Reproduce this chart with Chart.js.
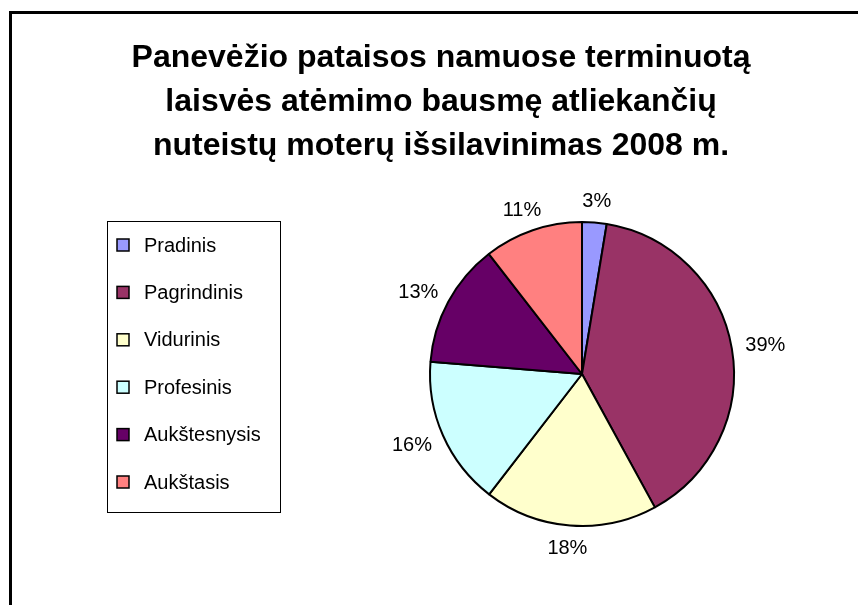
<!DOCTYPE html>
<html>
<head>
<meta charset="utf-8">
<script src="https://cdn.jsdelivr.net/npm/chart.js@4/dist/chart.umd.min.js"></script>
<style>
  html, body { margin: 0; padding: 0; background: #fff; overflow: hidden; }
  #frame { position: absolute; left: 9px; top: 11px; width: 900px; height: 700px;
           border-left: 3px solid #000; border-top: 3px solid #000; }
  #wrap { position: absolute; left: 0; top: 0; width: 858px; height: 605px; }
</style>
</head>
<body>
<div id="frame"></div>
<div id="wrap"><canvas id="grafikas" width="858" height="605"></canvas></div>
<script>
// Duomenys: išsilavinimo grupės ir jų dalys (%)
const kategorijos = ['Pradinis', 'Pagrindinis', 'Vidurinis', 'Profesinis', 'Aukštesnysis', 'Aukštasis'];
const reiksmes = [2.6, 39.4, 18.4, 15.8, 13.2, 10.5];
const spalvos = ['#9999FF', '#993366', '#FFFFCC', '#CCFFFF', '#660066', '#FF8080'];
const pavadinimas = [
  'Panevėžio pataisos namuose terminuotą',
  'laisvės atėmimo bausmę atliekančių',
  'nuteistų moterų išsilavinimas 2008 m.'
];

const SRIFTAS = "'Liberation Sans', Arial, sans-serif";

// Legenda kairėje: atskira layout dėžė, kuri nustumia pyragą į dešinę
const legendaDeze = {
  id: 'legendaDeze',
  beforeInit(chart) {
    const box = {
      position: 'left', weight: 0, fullSize: false, options: {},
      left: 0, top: 0, right: 0, bottom: 0, width: 0, height: 0,
      isHorizontal() { return false; },
      update(maxW, maxH) { this.width = 282; this.height = maxH; },
      draw() {
        const ctx = chart.ctx;
        const fx = this.left + 83, fy = this.top + 53, fw = 173, fh = 291;
        ctx.save();
        ctx.strokeStyle = '#000';
        ctx.lineWidth = 1;
        ctx.strokeRect(fx + 0.5, fy + 0.5, fw, fh);
        ctx.font = '20px ' + SRIFTAS;
        ctx.textBaseline = 'middle';
        ctx.fillStyle = '#000';
        chart.data.labels.forEach((lab, i) => {
          const cy = fy + 24 + i * 47.4;
          ctx.fillStyle = chart.data.datasets[0].backgroundColor[i];
          ctx.fillRect(fx + 10, cy - 6, 12, 12);
          ctx.lineWidth = 1.5;
          ctx.strokeRect(fx + 10, cy - 6, 12, 12);
          ctx.fillStyle = '#000';
          ctx.fillText(lab, fx + 37, cy + 1);
        });
        ctx.restore();
      }
    };
    Chart.layouts.addBox(chart, box);
  }
};

// Procentų užrašai už pyrago ribų
const procentai = {
  id: 'procentai',
  afterDatasetsDraw(chart) {
    const ctx = chart.ctx;
    const meta = chart.getDatasetMeta(0);
    const duom = chart.data.datasets[0].data;
    const suma = duom.reduce((a, b) => a + b, 0);
    ctx.save();
    ctx.font = '20px ' + SRIFTAS;
    ctx.fillStyle = '#000';
    ctx.textAlign = 'center';
    ctx.textBaseline = 'middle';
    meta.data.forEach((arc, i) => {
      const tekstas = Math.round(duom[i] / suma * 100) + '%';
      const w = ctx.measureText(tekstas).width;
      const vid = (arc.startAngle + arc.endAngle) / 2;
      const r = arc.outerRadius + 14;
      const x = arc.x + Math.cos(vid) * (r + w / 2);
      const y = arc.y + Math.sin(vid) * (r + 8);
      ctx.fillText(tekstas, x, y + 1);
    });
    ctx.restore();
  }
};

new Chart(document.getElementById('grafikas'), {
  type: 'pie',
  data: {
    labels: kategorijos,
    datasets: [{
      data: reiksmes,
      backgroundColor: spalvos,
      borderColor: '#000',
      borderWidth: 2,
      radius: 152
    }]
  },
  options: {
    responsive: false,
    animation: false,
    layout: { padding: { left: 24, right: 0, top: 0, bottom: 25 } },
    plugins: {
      legend: { display: false },
      tooltip: { enabled: false },
      title: {
        display: true,
        text: pavadinimas,
        color: '#000',
        font: { family: SRIFTAS, size: 32, weight: 'bold', lineHeight: 1.375 },
        padding: { top: 36, bottom: 0 }
      }
    }
  },
  plugins: [legendaDeze, procentai]
});
</script>
</body>
</html>
